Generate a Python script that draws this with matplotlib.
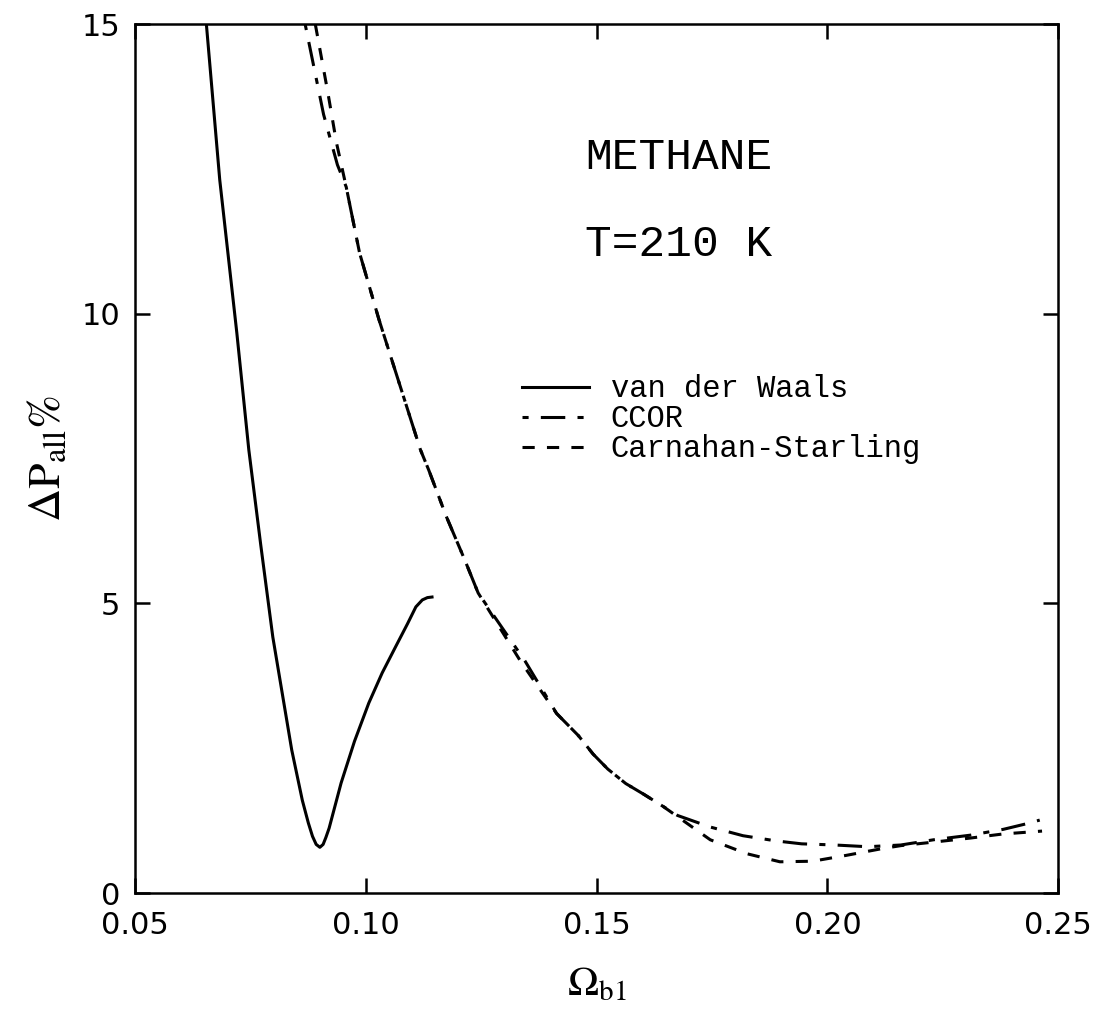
import matplotlib
matplotlib.use('Agg')
import matplotlib.pyplot as plt
import matplotlib.pylab as pylab

params = {
    'font.family': 'DejaVu Sans',
    'mathtext.fontset': 'stix',
    'xtick.labelsize': 22,
    'ytick.labelsize': 22,
    'xtick.direction': 'in',
    'ytick.direction': 'in',
    'axes.linewidth': 1.8,
    'lines.linewidth': 2.2,
}
pylab.rcParams.update(params)

# van der Waals (solid)
vdw_x = [0.0654, 0.0683, 0.0720, 0.0746, 0.0772, 0.0798, 0.0839, 0.0862, 0.0875,
         0.0884, 0.0892, 0.0900, 0.0907, 0.0913, 0.0920, 0.0946, 0.0975, 0.1006,
         0.1035, 0.1064, 0.1090, 0.1108, 0.1122, 0.1133, 0.1143]
vdw_y = [15.0, 12.31, 9.67, 7.65, 6.00, 4.42, 2.47, 1.60, 1.21,
         0.98, 0.84, 0.79, 0.84, 0.96, 1.12, 1.90, 2.62, 3.28,
         3.80, 4.25, 4.65, 4.94, 5.06, 5.10, 5.11]

# CCOR (short/long dash)
ccor_x = [0.0868, 0.0908, 0.0938, 0.0957, 0.0986, 0.1028, 0.1118, 0.1136, 0.1174,
          0.1214, 0.1243, 0.1345, 0.1413, 0.1460, 0.1492, 0.1524, 0.1563, 0.1603,
          0.1643, 0.1675, 0.1746, 0.1817, 0.1889, 0.1944, 0.2016, 0.2087, 0.2159,
          0.2230, 0.2310, 0.2381, 0.2433, 0.2460]
ccor_y = [15.0, 13.44, 12.57, 12.19, 11.05, 9.90, 7.65, 7.30, 6.50,
          5.75, 5.18, 4.00, 3.10, 2.72, 2.40, 2.14, 1.89, 1.70,
          1.50, 1.34, 1.14, 0.99, 0.90, 0.85, 0.83, 0.80, 0.83,
          0.92, 1.00, 1.10, 1.20, 1.26]

# Carnahan-Starling (short dashes)
cs_x = [0.0890, 0.0917, 0.0936, 0.0957, 0.0986, 0.1028, 0.1118, 0.1136, 0.1174,
        0.1214, 0.1243, 0.1335, 0.1413, 0.1460, 0.1492, 0.1524, 0.1563, 0.1603,
        0.1643, 0.1675, 0.1746, 0.1825, 0.1897, 0.1968, 0.2040, 0.2120, 0.2160,
        0.2230, 0.2310, 0.2380, 0.2465]
cs_y = [15.0, 13.83, 12.95, 12.19, 11.05, 9.90, 7.65, 7.30, 6.50,
        5.75, 5.18, 4.00, 3.10, 2.72, 2.40, 2.14, 1.89, 1.70,
        1.50, 1.32, 0.92, 0.68, 0.54, 0.55, 0.65, 0.77, 0.82,
        0.88, 0.95, 1.02, 1.07]

labels = ['van der Waals', 'CCOR', 'Carnahan-Starling']

fig = plt.figure(figsize=(11, 10.23), dpi=100)
axes = fig.add_axes([0.123, 0.127, 0.839, 0.8495])

axes.plot(vdw_x, vdw_y, '-', color='black', label=labels[0])
axes.plot(ccor_x, ccor_y, color='black', dashes=(2, 4, 8, 4), label=labels[1])
axes.plot(cs_x, cs_y, color='black', dashes=(4, 4), label=labels[2])

axes.set_xlim(0.05, 0.25)
axes.set_ylim(0, 15)
axes.set_xticks([0.05, 0.10, 0.15, 0.20, 0.25])
axes.set_xticklabels(['0.05', '0.10', '0.15', '0.20', '0.25'])
axes.set_yticks([0, 5, 10, 15])
axes.tick_params(top=True, right=True, length=11, width=1.8, pad=13)
axes.tick_params(axis='y', pad=11)

axes.text(0.589, 0.846, 'METHANE', transform=axes.transAxes, ha='center', va='center',
          family='Liberation Mono', fontsize=32)
axes.text(0.589, 0.746, 'T=210 K', transform=axes.transAxes, ha='center', va='center',
          family='Liberation Mono', fontsize=32)

axes.legend(loc='upper left', bbox_to_anchor=(0.419, 0.597), frameon=False,
            prop={'family': 'Liberation Mono', 'size': 22}, handlelength=2.2,
            handletextpad=0.7, labelspacing=0.0, borderpad=0, borderaxespad=0)

axes.set_xlabel(r'$\Omega_{\mathrm{b1}}$', fontsize=30, labelpad=16)
axes.set_ylabel(r'$\Delta\mathrm{P}_{\mathrm{all}}\%$', fontsize=33, labelpad=8)

plt.savefig('out.png', dpi=100)
